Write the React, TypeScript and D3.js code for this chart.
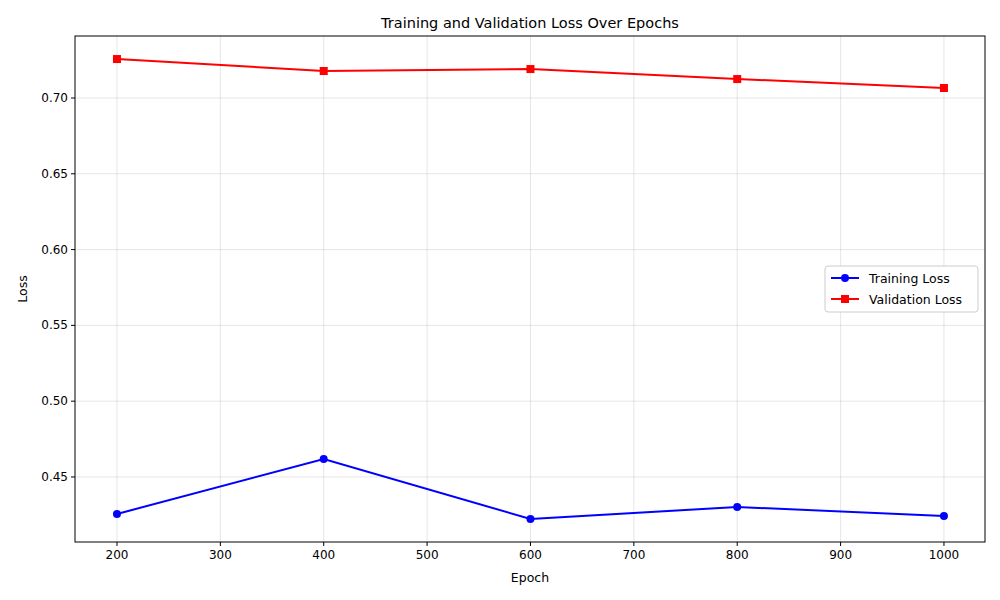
import React from 'react';
import * as d3 from 'd3';

const epochs = [200, 400, 600, 800, 1000];
const trainLoss = [0.4256, 0.4619, 0.4223, 0.4302, 0.4243];
const valLoss = [0.7257, 0.7178, 0.7191, 0.7125, 0.7066];
const xTicks = [200, 300, 400, 500, 600, 700, 800, 900, 1000];
const yTicks = [0.45, 0.5, 0.55, 0.6, 0.65, 0.7];

const W = 1000, H = 600;
const L = 75, R = 985, T = 36, B = 542;

export default function App() {
  const x = d3.scaleLinear().domain([159.4, 1039.7]).range([L, R]);
  const y = d3.scaleLinear().domain([0.4071, 0.7409]).range([B, T]);
  const line = d3.line<number>().x((_, i) => x(epochs[i])).y(d => y(d));
  const font = 'DejaVu Sans, sans-serif';
  return (
    <svg width={W} height={H} style={{ position: 'absolute', left: 0, top: 0, fontFamily: font }}>
      <rect width={W} height={H} fill="#fff" />
      {xTicks.map(t => (
        <g key={'x' + t}>
          <line x1={x(t)} x2={x(t)} y1={T} y2={B} stroke="#000" strokeOpacity={0.1} />
          <line x1={x(t)} x2={x(t)} y1={B} y2={B + 4} stroke="#000" />
          <text x={x(t)} y={B + 17} fontSize={12} textAnchor="middle">{t}</text>
        </g>
      ))}
      {yTicks.map(t => (
        <g key={'y' + t}>
          <line x1={L} x2={R} y1={y(t)} y2={y(t)} stroke="#000" strokeOpacity={0.1} />
          <line x1={L - 4} x2={L} y1={y(t)} y2={y(t)} stroke="#000" />
          <text x={L - 7} y={y(t) + 4} fontSize={12} textAnchor="end">{t.toFixed(2)}</text>
        </g>
      ))}
      <path d={line(trainLoss) || ''} fill="none" stroke="blue" strokeWidth={2} />
      {trainLoss.map((v, i) => <circle key={i} cx={x(epochs[i])} cy={y(v)} r={4} fill="blue" />)}
      <path d={line(valLoss) || ''} fill="none" stroke="red" strokeWidth={2} />
      {valLoss.map((v, i) => <rect key={i} x={x(epochs[i]) - 4} y={y(v) - 4} width={8} height={8} fill="red" />)}
      <rect x={L} y={T} width={R - L} height={B - T} fill="none" stroke="#000" />
      <text x={(L + R) / 2} y={28} fontSize={14.5} textAnchor="middle">Training and Validation Loss Over Epochs</text>
      <text x={(L + R) / 2} y={582} fontSize={12.5} textAnchor="middle">Epoch</text>
      <text transform={`translate(27,${(T + B) / 2}) rotate(-90)`} fontSize={12.5} textAnchor="middle">Loss</text>
      <g>
        <rect x={825} y={266} width={153} height={46} rx={3} fill="#fff" stroke="#ccc" />
        <line x1={831} x2={859} y1={278} y2={278} stroke="blue" strokeWidth={2} />
        <circle cx={845} cy={278} r={4} fill="blue" />
        <text x={869} y={283} fontSize={12.5}>Training Loss</text>
        <line x1={831} x2={859} y1={299} y2={299} stroke="red" strokeWidth={2} />
        <rect x={841} y={295} width={8} height={8} fill="red" />
        <text x={869} y={304} fontSize={12.5}>Validation Loss</text>
      </g>
    </svg>
  );
}
